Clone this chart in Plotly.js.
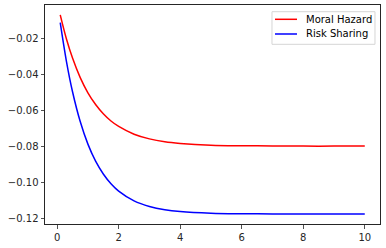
<!DOCTYPE html>
<html>
<head>
<meta charset="utf-8">
<script src="https://cdn.plot.ly/plotly-3.0.1.min.js"></script>
<style>html,body{margin:0;padding:0;background:#fff;}#chart{width:386px;height:248px;}</style>
</head>
<body>
<div id="chart"></div>
<script>
var xValues = [0.1, 0.3, 0.5, 0.75, 1.0, 1.25, 1.5, 1.75, 2.0, 2.5, 3.0, 3.5, 4.0, 5.0, 6.0, 7.0, 8.0, 9.0, 10.0];
var moralHazard = [-0.0071, -0.0203, -0.0310, -0.0418, -0.0502, -0.0567, -0.0618, -0.0658, -0.0688, -0.0731, -0.0757, -0.0773, -0.0782, -0.0792, -0.0795, -0.0796, -0.0797, -0.0797, -0.0797];
var riskSharing = [-0.0114, -0.0326, -0.0496, -0.0661, -0.0786, -0.0880, -0.0951, -0.1005, -0.1046, -0.1100, -0.1131, -0.1149, -0.1159, -0.1168, -0.1171, -0.1172, -0.1172, -0.1172, -0.1172];
var seriesNames = ["Moral Hazard", "Risk Sharing"];
var seriesColors = ["#ff0000", "#0000ff"];
var xTicks = [0, 2, 4, 6, 8, 10];
var xTickLabels = ["0", "2", "4", "6", "8", "10"];
var yTicks = [-0.12, -0.10, -0.08, -0.06, -0.04, -0.02];
var yTickLabels = ["\u22120.12", "\u22120.10", "\u22120.08", "\u22120.06", "\u22120.04", "\u22120.02"];

var seriesData = [moralHazard, riskSharing];
var traces = seriesData.map(function (ys, i) {
  return {x: xValues, y: ys, name: seriesNames[i], mode: "lines",
          line: {color: seriesColors[i], width: 1.5, shape: "spline", smoothing: 1}};
});

// matplotlib-style legend box drawn in paper coordinates
var legBox = {x0: 0.6776, x1: 0.985, y0: 0.8205, y1: 0.9694};
var legRowY = [0.9347, 0.8676];
var shapes = [{type: "rect", xref: "paper", yref: "paper", x0: legBox.x0, x1: legBox.x1, y0: legBox.y0, y1: legBox.y1,
               line: {color: "#d5d5d5", width: 1}, fillcolor: "rgba(255,255,255,0.8)", layer: "above"}];
var annotations = [];
seriesNames.forEach(function (name, i) {
  shapes.push({type: "line", xref: "paper", yref: "paper", x0: 0.6866, x1: 0.7522, y0: legRowY[i], y1: legRowY[i],
               line: {color: seriesColors[i], width: 1.5}, layer: "above"});
  annotations.push({xref: "paper", yref: "paper", x: 0.774, y: legRowY[i], xanchor: "left", yanchor: "middle",
                    text: name, showarrow: false, font: {family: "DejaVu Sans", size: 10, color: "#000000"}});
});

var axisCommon = {
  showgrid: false, zeroline: false, showline: true, mirror: true,
  linecolor: "#262626", linewidth: 1, ticks: "outside", ticklen: 3.5, tickwidth: 0.8, tickcolor: "#262626",
  tickfont: {family: "DejaVu Sans", size: 10, color: "#262626"}, tickmode: "array"
};
var layout = {
  width: 386, height: 248,
  margin: {l: 45, r: 6, t: 5, b: 24},
  paper_bgcolor: "#ffffff", plot_bgcolor: "#ffffff",
  showlegend: false,
  xaxis: Object.assign({}, axisCommon, {range: [-0.395, 10.495], tickvals: xTicks, ticktext: xTickLabels}),
  yaxis: Object.assign({}, axisCommon, {range: [-0.1228, -0.0016], tickvals: yTicks, ticktext: yTickLabels}),
  shapes: shapes,
  annotations: annotations
};
Plotly.newPlot("chart", traces, layout, {staticPlot: true, displayModeBar: false});
</script>
</body>
</html>
